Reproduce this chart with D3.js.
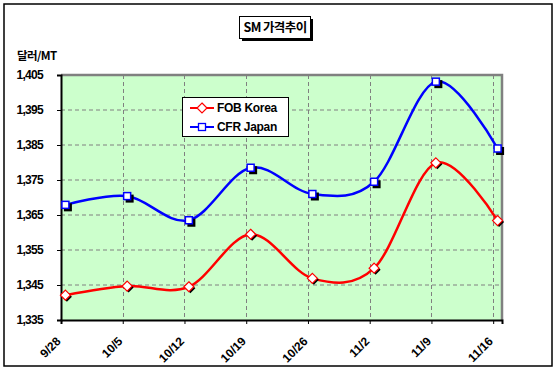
<!DOCTYPE html>
<html><head><meta charset="utf-8">
<script src="https://cdn.jsdelivr.net/npm/d3@7"></script>
<style>
html,body{margin:0;padding:0;background:#fff;}
svg{display:block;}
text{font-family:"Liberation Sans",Arial,sans-serif;font-weight:bold;fill:#000;}
</style></head>
<body>
<svg id="chart" width="557" height="374"></svg>
<script>
const title = "SM 가격추이";
const unitLabel = "달러/MT";
const dates = ["9/28","10/5","10/12","10/19","10/26","11/2","11/9","11/16"];
const fobKorea = [1342.1, 1344.7, 1344.5, 1359.5, 1346.9, 1349.8, 1379.9, 1363.4];
const cfrJapan = [1367.9, 1370.4, 1363.5, 1378.5, 1371.0, 1374.5, 1403.1, 1384.0];
const yTicks = [1335, 1345, 1355, 1365, 1375, 1385, 1395, 1405];
const seriesNames = ["FOB Korea", "CFR Japan"];

const svg = d3.select("#chart");
const m = {left: 61, top: 75, right: 502, bottom: 320};

const parse = s => { const [mo, d] = s.split("/").map(Number); return new Date(2007, mo - 1, d); };
const day = 24 * 3600 * 1000;
const dateObjs = dates.map(parse);
const x = d3.scaleTime()
  .domain([dateObjs[0], new Date(+dateObjs[dateObjs.length - 1] + day)])
  .range([m.left, m.right]);
const y = d3.scaleLinear().domain([1335, 1405]).range([m.bottom, m.top]);
const px = i => x(new Date(+dateObjs[i] + day / 2));

// outer border
svg.append("rect").attr("x", 4).attr("y", 4).attr("width", 548).attr("height", 362)
  .attr("fill", "#fff").attr("stroke", "#000").attr("stroke-width", 1.5);

// title box with shadow
const tb = svg.append("g");
tb.append("rect").attr("x", 242).attr("y", 19).attr("width", 71).attr("height", 22).attr("fill", "#000");
tb.append("rect").attr("x", 239.5).attr("y", 16.5).attr("width", 71).attr("height", 22)
  .attr("fill", "#fff").attr("stroke", "#000").attr("stroke-width", 1);
tb.append("text").attr("x", 275).attr("y", 32).attr("text-anchor", "middle")
  .style("font-family", "'Noto Sans CJK KR','Liberation Sans',sans-serif")
  .style("font-size", "12.5px").style("letter-spacing", "-0.6px").text(title);

// unit label
svg.append("text").attr("x", 17).attr("y", 60)
  .style("font-family", "'Noto Sans CJK KR','Liberation Sans',sans-serif")
  .style("font-size", "11.5px").style("letter-spacing", "-0.6px").text(unitLabel);

// plot background
svg.append("rect").attr("x", m.left).attr("y", m.top)
  .attr("width", m.right - m.left).attr("height", m.bottom - m.top).attr("fill", "#CCFFCC");

// horizontal gridlines
svg.append("g").selectAll("line").data(yTicks.filter(v => v > 1335 && v < 1405)).join("line")
  .attr("x1", m.left).attr("x2", m.right).attr("y1", d => y(d)).attr("y2", d => y(d))
  .attr("stroke", "#808080").attr("stroke-width", 1).attr("stroke-dasharray", "4,3");
// vertical gridlines
svg.append("g").selectAll("line").data(dateObjs.slice(1)).join("line")
  .attr("x1", d => Math.round(x(d)) + 0.5).attr("x2", d => Math.round(x(d)) + 0.5)
  .attr("y1", m.top).attr("y2", m.bottom)
  .attr("stroke", "#808080").attr("stroke-width", 1).attr("stroke-dasharray", "4,3");

// plot border: top & right gray
svg.append("path")
  .attr("d", `M${m.left},${m.top} H${m.right} V${m.bottom}`)
  .attr("fill", "none").attr("stroke", "#808080").attr("stroke-width", 2.5);

// y axis
const yAxis = svg.append("g").attr("transform", `translate(${m.left},0)`)
  .call(d3.axisLeft(y).tickValues(yTicks).tickSize(4).tickPadding(14).tickFormat(d3.format(",")));
yAxis.select(".domain").attr("stroke", "#000").attr("stroke-width", 2);
yAxis.selectAll(".tick line").attr("stroke", "#000");
yAxis.selectAll("text").style("font-size", "12px").style("letter-spacing", "-0.7px")
  .attr("font-family", null).attr("fill", "#000");

// x axis
const xAxis = svg.append("g").attr("transform", `translate(0,${m.bottom})`)
  .call(d3.axisBottom(x).tickValues(dateObjs).tickSize(4).tickFormat((d, i) => dates[i]));
xAxis.select(".domain").attr("stroke", "#000").attr("stroke-width", 2);
xAxis.selectAll(".tick line").attr("stroke", "#000");
xAxis.selectAll("text")
  .style("font-size", "12px").style("letter-spacing", "0px").attr("fill", "#000")
  .attr("text-anchor", "end").attr("dy", null).attr("y", 0)
  .attr("transform", "translate(0,22) rotate(-45)");

// lines
const line = d3.line().x((d, i) => px(i)).y(d => y(d)).curve(d3.curveCatmullRom.alpha(0));
const series = [
  {name: seriesNames[0], values: fobKorea, color: "#FF0000", shape: "diamond"},
  {name: seriesNames[1], values: cfrJapan, color: "#0000FF", shape: "square"}
];
const diamond = s => `M0,${-s} L${s},0 L0,${s} L${-s},0 Z`;
series.forEach(s => {
  svg.append("path").datum(s.values).attr("d", line)
    .attr("fill", "none").attr("stroke", s.color).attr("stroke-width", 2.5);
});
series.forEach(s => {
  const g = svg.append("g");
  s.values.forEach((v, i) => {
    const cx = px(i), cy = y(v);
    if (s.shape === "square") {
      g.append("rect").attr("x", cx - 3.5 + 2).attr("y", cy - 3.5 + 2).attr("width", 8).attr("height", 8).attr("fill", "#000");
      g.append("rect").attr("x", cx - 3.5).attr("y", cy - 3.5).attr("width", 7).attr("height", 7)
        .attr("fill", "#fff").attr("stroke", s.color).attr("stroke-width", 1.5);
    } else {
      g.append("path").attr("d", diamond(5)).attr("transform", `translate(${cx + 1.5},${cy + 1.5})`)
        .attr("fill", "#000");
      g.append("path").attr("d", diamond(5)).attr("transform", `translate(${cx},${cy})`)
        .attr("fill", "#fff").attr("stroke", s.color).attr("stroke-width", 1.2);
    }
  });
});

// legend
const lg = svg.append("g");
lg.append("rect").attr("x", 182.5).attr("y", 97.5).attr("width", 106).attr("height", 39)
  .attr("fill", "#fff").attr("stroke", "#000").attr("stroke-width", 1);
series.forEach((s, i) => {
  const cy = 108 + i * 19;
  lg.append("line").attr("x1", 190).attr("x2", 214).attr("y1", cy).attr("y2", cy)
    .attr("stroke", s.color).attr("stroke-width", 2);
  if (s.shape === "square") {
    lg.append("rect").attr("x", 202 - 3.5).attr("y", cy - 3.5).attr("width", 7).attr("height", 7)
      .attr("fill", "#fff").attr("stroke", s.color).attr("stroke-width", 1.3);
  } else {
    lg.append("path").attr("d", diamond(5)).attr("transform", `translate(202,${cy})`)
      .attr("fill", "#fff").attr("stroke", s.color).attr("stroke-width", 1.2);
  }
  lg.append("text").attr("x", 217).attr("y", cy + 4).style("font-size", "12px").style("letter-spacing", "-0.3px").text(s.name);
});
</script>
</body></html>
